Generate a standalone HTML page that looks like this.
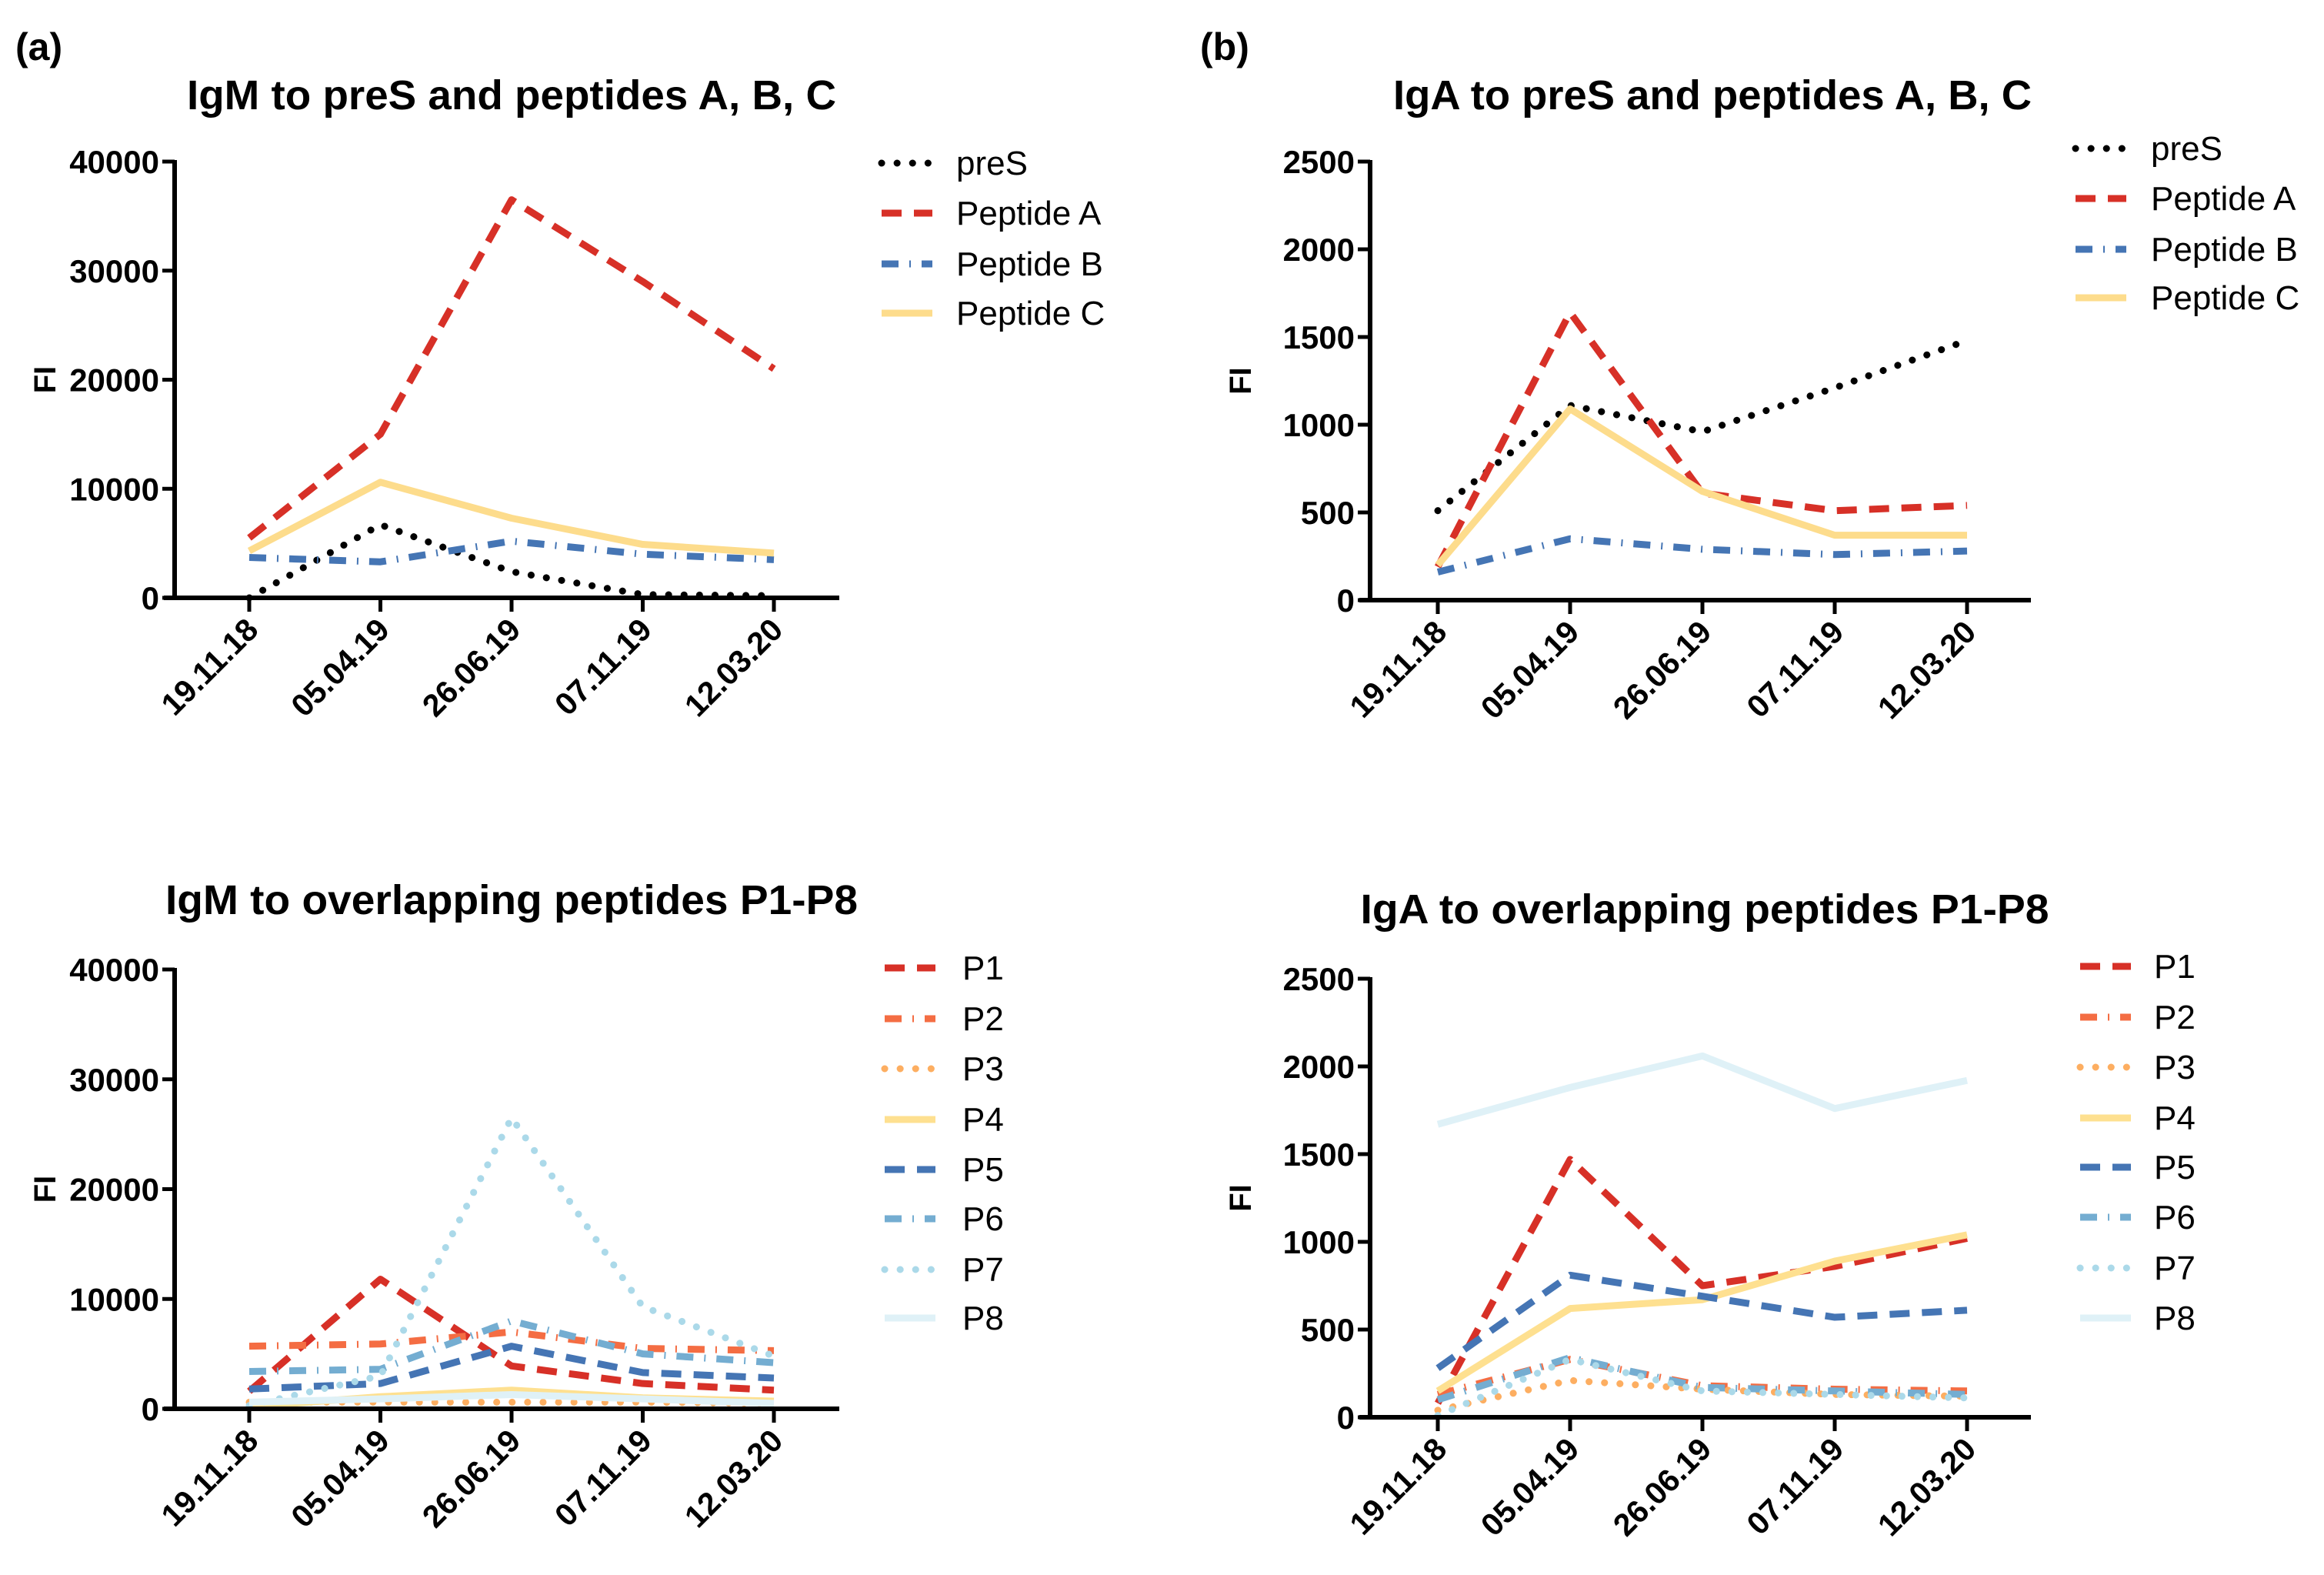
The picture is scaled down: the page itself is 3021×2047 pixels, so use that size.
<!DOCTYPE html>
<html><head><meta charset="utf-8"><style>
html,body{margin:0;padding:0;background:#fff}
svg{display:block}
text{font-family:"Liberation Sans",Arial,sans-serif;fill:#000}
</style></head><body>
<svg id="fig" width="3021" height="2047" viewBox="0 0 3021 2047">
<text x="20" y="78" font-size="50" font-weight="bold">(a)</text>
<text x="1560" y="78" font-size="50" font-weight="bold">(b)</text>
</svg>
<script>
const dates = ["19.11.18","05.04.19","26.06.19","07.11.19","12.03.20"];
const ticksA = [0,10000,20000,30000,40000];
const ticksB = [0,500,1000,1500,2000,2500];
// Panel a: IgM preS/A/B/C
const aNames = ["preS","Peptide A","Peptide B","Peptide C"];
const aPreS = [0,6700,2400,300,200];
const aPepA = [5500,15000,36500,29000,21000];
const aPepB = [3700,3300,5200,4000,3500];
const aPepC = [4300,10600,7300,4900,4100];
// Panel b: IgA preS/A/B/C
const bPreS = [510,1110,960,1210,1480];
const bPepA = [190,1640,610,510,540];
const bPepB = [160,350,290,260,280];
const bPepC = [200,1090,620,370,370];
// Panel c: IgM P1-P8
const pNames = ["P1","P2","P3","P4","P5","P6","P7","P8"];
const cP1 = [1600,11800,3900,2300,1700];
const cP2 = [5700,5900,7000,5500,5300];
const cP3 = [600,600,600,600,500];
const cP4 = [200,1100,1700,1000,700];
const cP5 = [1800,2300,5700,3300,2800];
const cP6 = [3400,3600,8000,5000,4200];
const cP7 = [300,3000,26500,9300,4800];
const cP8 = [600,900,1300,900,500];
// Panel d: IgA P1-P8
const dP1 = [80,1470,750,860,1020];
const dP2 = [130,330,180,160,150];
const dP3 = [40,210,160,130,120];
const dP4 = [150,620,670,890,1040];
const dP5 = [280,810,690,570,610];
const dP6 = [100,340,170,150,130];
const dP7 = [10,330,150,130,110];
const dP8 = [1670,1880,2060,1760,1920];

const NS="http://www.w3.org/2000/svg";
const svg=document.getElementById('fig');
function mk(tag,attrs,parent){const e=document.createElementNS(NS,tag);for(const k in attrs)e.setAttribute(k,attrs[k]);(parent||svg).appendChild(e);return e;}

const styles={
 black:{c:"#000",d:"0.1 20",cap:"round",w:9},
 red:{c:"#d73027",d:"26 16",cap:"butt",w:9},
 blue:{c:"#4575b4",d:"22 14 2 14",cap:"butt",w:9},
 yellow:{c:"#fddc8c",d:"",cap:"butt",w:9},
 orange:{c:"#f46d43",d:"22 14 2 14",cap:"butt",w:9},
 lorange:{c:"#fdae61",d:"0.1 20",cap:"round",w:9},
 pyellow:{c:"#fee090",d:"",cap:"butt",w:9},
 dblue:{c:"#4575b4",d:"26 16",cap:"butt",w:9},
 mblue:{c:"#74add1",d:"22 14 2 14",cap:"butt",w:9},
 lblue:{c:"#abd9e9",d:"0.1 20",cap:"round",w:9},
 vlblue:{c:"#dff1f7",d:"",cap:"butt",w:9}
};

function panel(p){
 const g=mk('g',{});
 
 
 const yv=v=>p.y0-(v/p.max)*(p.y0-p.top);
 const xv=i=>p.xs0+i*p.dx;
 const t=mk('text',{x:p.tcx,y:p.tby,'font-size':54,'font-weight':'bold','text-anchor':'middle',textLength:p.tw,lengthAdjust:'spacingAndGlyphs'},g);
 t.textContent=p.title;
 
 
 const fi=mk('text',{x:0,y:0,'font-size':40,'font-weight':'bold','text-anchor':'middle',transform:`translate(${p.fx},${(p.top+p.y0)/2}) rotate(-90)`},g);
 fi.textContent="FI";
 
 
 // series
 p.series.forEach((s,k)=>{
  const st=styles[s.st];
  const pts=s.v.map((v,i)=>xv(i)+','+yv(v)).join(' ');
  const l=mk('polyline',{points:pts,fill:'none',stroke:st.c,'stroke-width':st.w,'stroke-dasharray':st.d,'stroke-linecap':st.cap,'stroke-linejoin':'round'},g);
  
  
  const ly=p.ly[k];
  const lg=mk('g',{},g);
  
  
  mk('line',{x1:p.lx1,x2:p.lx1+66,y1:ly,y2:ly,stroke:st.c,'stroke-width':st.w,'stroke-dasharray':st.d,'stroke-linecap':st.cap},lg);
  const lt=mk('text',{x:p.lt,y:ly+15,'font-size':44},lg);
  lt.textContent=s.n;
 });
 // axes
 const ax=mk('path',{d:`M${p.ax},${p.top-2}V${p.y0}M${p.ax-14},${p.y0}H${p.xend}`,stroke:'#000','stroke-width':6,fill:'none'},g);
 
 
 p.ticks.forEach(v=>{
  const y=yv(v);
  mk('line',{x1:p.ax-16,x2:p.ax,y1:y,y2:y,stroke:'#000','stroke-width':5},g);
  const tl=mk('text',{x:p.ax-20,y:y+15,'font-size':42,'font-weight':'bold','text-anchor':'end'},g);
  tl.textContent=v;
  
  
 });
 dates.forEach((d,i)=>{
  const x=xv(i);
  mk('line',{x1:x,x2:x,y1:p.y0,y2:p.y0+18,stroke:'#000','stroke-width':5},g);
  const tl=mk('text',{x:0,y:0,'font-size':41,'font-weight':'bold','text-anchor':'end',transform:`translate(${x+14},${p.y0+44}) rotate(-45)`},g);
  tl.textContent=d;
  
  
 });
}

panel({name:'chart-igm-pres',title:'IgM to preS and peptides A, B, C',tcx:665,tby:142,tw:844,fx:72,ax:227,top:210,y0:777,max:40000,xs0:324,dx:170.5,xend:1091,ticks:ticksA,lx1:1146,lt:1243,ly:[212,277,343,407],
 series:[{n:aNames[0],v:aPreS,st:'black'},{n:aNames[1],v:aPepA,st:'red'},{n:aNames[2],v:aPepB,st:'blue'},{n:aNames[3],v:aPepC,st:'yellow'}]});
panel({name:'chart-iga-pres',title:'IgA to preS and peptides A, B, C',tcx:2226,tby:142,tw:830,fx:1626,ax:1781,top:210,y0:780,max:2500,xs0:1869,dx:172,xend:2640,ticks:ticksB,lx1:2698,lt:2796,ly:[193,258,324,387],
 series:[{n:aNames[0],v:bPreS,st:'black'},{n:aNames[1],v:bPepA,st:'red'},{n:aNames[2],v:bPepB,st:'blue'},{n:aNames[3],v:bPepC,st:'yellow'}]});
const pst=['red','orange','lorange','pyellow','dblue','mblue','lblue','vlblue'];
const cS=[cP1,cP2,cP3,cP4,cP5,cP6,cP7,cP8];
const dS=[dP1,dP2,dP3,dP4,dP5,dP6,dP7,dP8];
panel({name:'chart-igm-p1-p8',title:'IgM to overlapping peptides P1-P8',tcx:665,tby:1188,tw:900,fx:72,ax:227,top:1260,y0:1831,max:40000,xs0:324,dx:170.5,xend:1091,ticks:ticksA,lx1:1150,lt:1251,ly:[1258,1324,1389,1455,1520,1584,1650,1713],
 series:cS.map((v,i)=>({n:pNames[i],v:v,st:pst[i]}))});
panel({name:'chart-iga-p1-p8',title:'IgA to overlapping peptides P1-P8',tcx:2216,tby:1200,tw:895,fx:1626,ax:1781,top:1272,y0:1842,max:2500,xs0:1869,dx:172,xend:2640,ticks:ticksB,lx1:2704,lt:2800,ly:[1256,1322,1387,1453,1517,1582,1648,1713],
 series:dS.map((v,i)=>({n:pNames[i],v:v,st:pst[i]}))});
</script>
</body></html>
